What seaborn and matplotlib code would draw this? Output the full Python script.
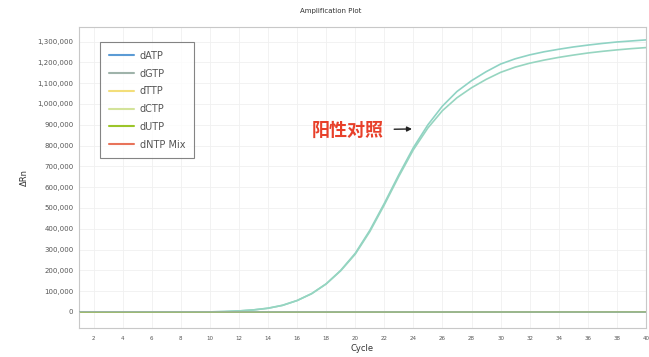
import matplotlib
matplotlib.use("Agg")
import matplotlib.pyplot as plt
import seaborn as sns
import pandas as pd
from matplotlib.ticker import FuncFormatter

cycles = list(range(1, 41))

# Positive control curves (two replicates)
pos_ctrl_1 = [0, 0, 0, 0, 0, 0, 0, 0, 0, 500, 2000, 5000, 10000, 18000, 32000,
              55000, 88000, 135000, 200000, 282000, 392000, 522000, 660000, 790000, 900000,
              990000, 1060000, 1112000, 1155000, 1192000, 1217000, 1236000, 1251000, 1263000, 1274000,
              1283000, 1291000, 1298000, 1303000, 1308000]
pos_ctrl_2 = [0, 0, 0, 0, 0, 0, 0, 0, 0, 500, 2000, 5000, 10000, 18000, 32000,
              55000, 88000, 135000, 198000, 278000, 386000, 515000, 652000, 780000, 885000,
              968000, 1030000, 1078000, 1118000, 1152000, 1177000, 1196000, 1211000, 1224000, 1235000,
              1245000, 1253000, 1260000, 1266000, 1271000]

# Negative series (flat near baseline)
dATP = [1000, 900, 800, 800, 700, 700, 600, 600, 500, 500, 500, 400, 400, 400, 300, 300, 300, 200, 200, 200,
        200, 100, 100, 100, 0, 0, 0, 0, -100, -100, -100, -200, -200, -200, -300, -300, -300, -400, -400, -400]
dGTP = [1500, 1400, 1300, 1300, 1200, 1200, 1100, 1100, 1000, 1000, 1000, 900, 900, 900, 800, 800, 800, 700, 700, 700,
        600, 600, 600, 500, 500, 500, 400, 400, 400, 300, 300, 300, 200, 200, 200, 100, 100, 100, 0, 0]
dTTP = [500, 500, 400, 400, 400, 300, 300, 300, 200, 200, 200, 100, 100, 100, 0, 0, 0, 0, -100, -100,
        -100, -200, -200, -200, -300, -300, -300, -400, -400, -400, -500, -500, -500, -600, -600, -600, -700, -700, -700, -800]
dCTP = [800, 800, 700, 700, 700, 600, 600, 600, 500, 500, 500, 400, 400, 400, 300, 300, 300, 200, 200, 200,
        100, 100, 100, 0, 0, 0, -100, -100, -100, -200, -200, -200, -300, -300, -300, -400, -400, -400, -500, -500]
dUTP = [-500, -500, -500, -400, -400, -400, -300, -300, -300, -200, -200, -200, -100, -100, -100, 0, 0, 0, 0, 100,
        100, 100, 200, 200, 200, 300, 300, 300, 400, 400, 400, 500, 500, 500, 600, 600, 600, 700, 700, 700]
dNTP_Mix = [-1500, -1400, -1300, -1300, -1200, -1200, -1100, -1100, -1000, -1000, -1000, -900, -900, -900, -800, -800,
            -800, -700, -700, -700, -600, -600, -600, -500, -500, -500, -400, -400, -400, -300, -300, -300, -200, -200,
            -200, -100, -100, -100, 0, 0]

series_names = ["dATP", "dGTP", "dTTP", "dCTP", "dUTP", "dNTP Mix"]
series_values = [dATP, dGTP, dTTP, dCTP, dUTP, dNTP_Mix]
series_colors = ["#5b9bd5", "#9fb3aa", "#f3de7a", "#d3e39a", "#9cc52a", "#e8735a"]
y_ticks = list(range(0, 1400000, 100000))
x_ticks = list(range(2, 41, 2))

sns.set_style("white")
plt.rcParams['font.family'] = ['DejaVu Sans', 'Noto Sans CJK SC']

fig = plt.figure(figsize=(6.49, 3.57), dpi=100)
ax = fig.add_axes([79 / 649, 1 - 328 / 357, (646 - 79) / 649, (328 - 27) / 357])

neg = pd.DataFrame({
    "Cycle": cycles * len(series_names),
    "dRn": [v for vals in series_values for v in vals],
    "Target": [n for n in series_names for _ in cycles],
})
pos = pd.DataFrame({
    "Cycle": cycles * 2,
    "dRn": pos_ctrl_1 + pos_ctrl_2,
    "Rep": ["A"] * 40 + ["B"] * 40,
})

sns.lineplot(data=pos, x="Cycle", y="dRn", hue="Rep", palette=["#8fd3c4", "#96d5c0"],
             linewidth=1.2, legend=False, ax=ax)
sns.lineplot(data=neg, x="Cycle", y="dRn", hue="Target", hue_order=series_names,
             palette=series_colors, linewidth=1.0, ax=ax)

# put the grey trace on top of the baseline bundle, red at the bottom
neg_lines = ax.lines[2:8]
z_order = [2.3, 2.6, 2.2, 2.25, 2.4, 2.1]
for ln, z in zip(neg_lines, z_order):
    ln.set_zorder(z)
    ln.set_alpha(0.85)

ax.set_xlim(1, 40)
ax.set_ylim(-77000, 1370000)
ax.set_xticks(x_ticks)
ax.set_yticks(y_ticks)
ax.yaxis.set_major_formatter(FuncFormatter(lambda v, p: f"{int(v):,}"))
ax.tick_params(axis="y", labelsize=5, colors="#555555", length=2, width=0.5, pad=2)
ax.tick_params(axis="x", labelsize=4, colors="#555555", length=2, width=0.5, pad=4)
ax.grid(True, color="#f0f0f0", linewidth=0.6)
for s in ax.spines.values():
    s.set_color("#c8c8c8")
    s.set_linewidth(0.8)

ax.set_xlabel("Cycle", fontsize=6, color="#333333", labelpad=2)
ax.set_ylabel("ΔRn", fontsize=6, color="#333333", labelpad=6)
fig.text(0.51, 0.968, "Amplification Plot", fontsize=5, color="#333333", ha="center", va="center")

leg = ax.legend(loc="upper left", bbox_to_anchor=(100 / 649, 1 - 42 / 357), bbox_transform=fig.transFigure,
                borderaxespad=0, fontsize=7, frameon=True, fancybox=False, edgecolor="#666666",
                handlelength=2.6, labelspacing=0.8, borderpad=0.9, handletextpad=0.6)
leg.get_frame().set_linewidth(0.8)
for t in leg.get_texts():
    t.set_color("#555555")
for h, c in zip(leg.get_lines(), series_colors):
    h.set_color(c)
    h.set_alpha(1.0)
    h.set_linewidth(1.5)

ax.annotate("阳性对照", xy=(24.0, 880000), xytext=(19.5, 875000),
            fontsize=13, fontweight="bold", color="#e8402a", family=["Noto Sans CJK SC"],
            ha="center", va="center",
            arrowprops=dict(arrowstyle="-|>", color="#222222", lw=1.0, mutation_scale=7, shrinkA=5, shrinkB=1))

fig.savefig("out.png", dpi=100)
